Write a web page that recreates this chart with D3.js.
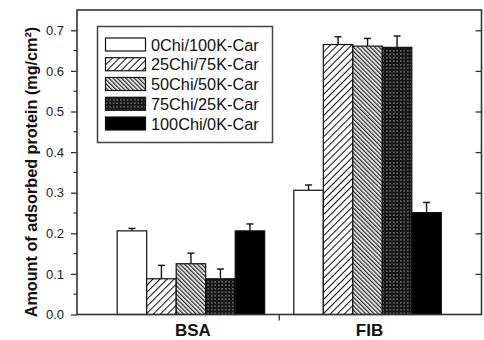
<!DOCTYPE html>
<html>
<head>
<meta charset="utf-8">
<script src="https://cdn.jsdelivr.net/npm/d3@7"></script>
<style>
  body { margin: 0; background: #fff; }
  text { font-family: "Liberation Sans", Arial, sans-serif; }
</style>
</head>
<body>
<svg id="chart" width="484" height="340"></svg>
<script>
// Data
const groups = ["BSA", "FIB"];
const series = ["0Chi/100K-Car", "25Chi/75K-Car", "50Chi/50K-Car", "75Chi/25K-Car", "100Chi/0K-Car"];
const bsaValues = [0.206, 0.088, 0.125, 0.088, 0.206];
const bsaErrors = [0.006, 0.033, 0.026, 0.024, 0.017];
const fibValues = [0.306, 0.665, 0.661, 0.658, 0.251];
const fibErrors = [0.013, 0.019, 0.019, 0.028, 0.025];
const yTicks = [0.0, 0.1, 0.2, 0.3, 0.4, 0.5, 0.6, 0.7];

const width = 484, height = 340;
const margin = { top: 10, right: 2, bottom: 25, left: 77 };
const axisColor = "#333";

const svg = d3.select("#chart");

// patterns
const defs = svg.append("defs");
const fwd = defs.append("pattern").attr("id", "fwd")
  .attr("patternUnits", "userSpaceOnUse").attr("width", 5).attr("height", 5)
  .attr("patternTransform", "rotate(45)");
fwd.append("rect").attr("width", 5).attr("height", 5).attr("fill", "#fff");
fwd.append("line").attr("x1", 0.5).attr("y1", 0).attr("x2", 0.5).attr("y2", 5)
  .attr("stroke", "#111").attr("stroke-width", 1);

const bwd = defs.append("pattern").attr("id", "bwd")
  .attr("patternUnits", "userSpaceOnUse").attr("width", 3).attr("height", 3)
  .attr("patternTransform", "rotate(-45)");
bwd.append("rect").attr("width", 3).attr("height", 3).attr("fill", "#fff");
bwd.append("line").attr("x1", 0.7).attr("y1", 0).attr("x2", 0.7).attr("y2", 3)
  .attr("stroke", "#222").attr("stroke-width", 1.3);

const dots = defs.append("pattern").attr("id", "dots")
  .attr("patternUnits", "userSpaceOnUse").attr("width", 3.5).attr("height", 3.5);
dots.append("rect").attr("width", 3.5).attr("height", 3.5).attr("fill", "#161616");
dots.append("rect").attr("x", 1.2).attr("y", 1.2).attr("width", 1.1).attr("height", 1.1).attr("fill", "#ccc");

const fills = ["#fff", "url(#fwd)", "url(#bwd)", "url(#dots)", "#000"];

// scales
const x = d3.scaleLinear()
  .domain([0.355, 2.645])
  .range([margin.left, width - margin.right - 0.5]);

const y = d3.scaleLinear()
  .domain([0, 0.75])
  .range([height - margin.bottom - 0.5, margin.top]);

const barW = 0.167;
const groupData = [
  { name: groups[0], pos: 1, values: bsaValues, errors: bsaErrors },
  { name: groups[1], pos: 2, values: fibValues, errors: fibErrors }
];

// bars
groupData.forEach(g => {
  g.values.forEach((v, i) => {
    const x0 = x(g.pos + (i - 2.5) * barW);
    const x1 = x(g.pos + (i - 1.5) * barW);
    const cx = (x0 + x1) / 2;
    // error bar (upper only)
    svg.append("line")
      .attr("x1", cx).attr("x2", cx)
      .attr("y1", y(v)).attr("y2", y(v + g.errors[i]))
      .attr("stroke", "#111").attr("stroke-width", 1.4);
    svg.append("line")
      .attr("x1", cx - 3.5).attr("x2", cx + 3.5)
      .attr("y1", y(v + g.errors[i])).attr("y2", y(v + g.errors[i]))
      .attr("stroke", "#111").attr("stroke-width", 1.4);
    svg.append("rect")
      .attr("x", x0).attr("y", y(v))
      .attr("width", x1 - x0).attr("height", y(0) - y(v))
      .attr("fill", fills[i])
      .attr("stroke", "#111").attr("stroke-width", 1.2);
  });
});

// axes
const yAxisL = d3.axisLeft(y).tickValues(yTicks).tickSize(6).tickPadding(7)
  .tickFormat(d3.format(".1f"));
const gL = svg.append("g")
  .attr("transform", `translate(${margin.left},0)`)
  .call(yAxisL);
gL.select(".domain").remove();
gL.selectAll("text").attr("font-size", 13).attr("fill", "#222")
  .style("font-family", "'Liberation Sans', Arial, sans-serif");
gL.selectAll("line").attr("stroke", axisColor).attr("stroke-width", 1.3);

// minor ticks
const minor = d3.range(0.05, 0.75, 0.1);
svg.append("g").selectAll("line").data(minor).join("line")
  .attr("x1", margin.left - 3.5).attr("x2", margin.left)
  .attr("y1", d => y(d)).attr("y2", d => y(d))
  .attr("stroke", axisColor).attr("stroke-width", 1.2);

// right axis ticks (inward)
const gR = svg.append("g")
  .attr("transform", `translate(${width - margin.right - 0.5},0)`)
  .call(d3.axisLeft(y).tickValues(yTicks.slice(1)).tickSize(6).tickFormat(""));
gR.select(".domain").remove();
gR.selectAll("line").attr("stroke", axisColor).attr("stroke-width", 1.3);

// frame
svg.append("rect")
  .attr("x", margin.left).attr("y", margin.top)
  .attr("width", width - margin.right - 0.5 - margin.left)
  .attr("height", y(0) - margin.top)
  .attr("fill", "none").attr("stroke", axisColor).attr("stroke-width", 1.6);

// bottom tick between groups
svg.append("line")
  .attr("x1", x(1.5)).attr("x2", x(1.5))
  .attr("y1", y(0)).attr("y2", y(0) + 6)
  .attr("stroke", axisColor).attr("stroke-width", 1.3);

// category labels
svg.append("g").selectAll("text").data(groupData).join("text")
  .attr("x", d => x(d.pos) + 2)
  .attr("y", 336)
  .attr("text-anchor", "middle")
  .attr("font-size", 17)
  .attr("font-weight", "bold")
  .attr("fill", "#111")
  .text(d => d.name);

// y title
svg.append("text")
  .attr("transform", "translate(37,172) rotate(-90)")
  .attr("text-anchor", "middle")
  .attr("font-size", 16.2)
  .attr("font-weight", "bold")
  .attr("fill", "#111")
  .text("Amount of adsorbed protein (mg/cm²)");

// legend
const legend = svg.append("g");
legend.append("rect")
  .attr("x", 97.5).attr("y", 26.5).attr("width", 175).attr("height", 116)
  .attr("fill", "#fff").attr("stroke", "#444").attr("stroke-width", 1.5);
series.forEach((s, i) => {
  const cy = 44.5 + i * 19.75;
  legend.append("rect")
    .attr("x", 105.5).attr("y", cy - 6.5).attr("width", 40).attr("height", 13)
    .attr("fill", fills[i]).attr("stroke", "#111").attr("stroke-width", 1.2);
  legend.append("text")
    .attr("x", 151).attr("y", cy + 6)
    .attr("font-size", 16.3)
    .attr("fill", "#111")
    .text(s);
});
</script>
</body>
</html>
